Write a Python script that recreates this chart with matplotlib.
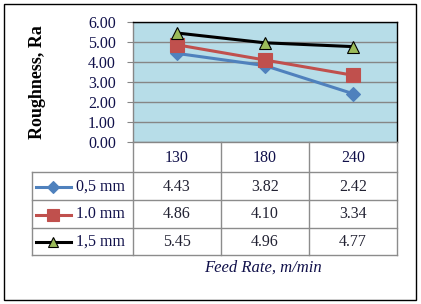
import matplotlib
matplotlib.use("Agg")
import matplotlib.pyplot as plt
from matplotlib.patches import Rectangle

plt.rcParams['font.family'] = ['Liberation Serif', 'DejaVu Serif']

categories = ["130", "180", "240"]
series_names = ["0,5 mm", "1.0 mm", "1,5 mm"]
values_05 = [4.43, 3.82, 2.42]
values_10 = [4.86, 4.10, 3.34]
values_15 = [5.45, 4.96, 4.77]
yticks = [0, 1, 2, 3, 4, 5, 6]

series = [values_05, values_10, values_15]
line_colors = ["#4F81BD", "#C0504D", "#000000"]
markers = ["D", "s", "^"]
mfc = ["#4F81BD", "#C0504D", "#9BBB59"]
mec = ["#4F81BD", "#C0504D", "#000000"]
msizes = [7, 9.5, 9]

W, H = 421, 304
fig = plt.figure(figsize=(W / 100, H / 100), dpi=100)
fig.patch.set_facecolor("white")

FS = 11.5
TXT = "#10104a"

def fx(px):
    return px / W

def fy(py):
    return 1 - py / H

# outer border
fig.add_artist(Rectangle((fx(3.5), fy(300)), fx(412), (300 - 3.5) / H,
                         transform=fig.transFigure, fill=False,
                         edgecolor="black", linewidth=1.0))

L, R, T, B = 133, 396.7, 22, 142
ax = fig.add_axes([fx(L), fy(B), fx(R - L), (B - T) / H])
ax.set_facecolor("#B7DDE8")
n = len(categories)
x = list(range(n))
for vals, lc, m, fc, ec, ms in zip(series, line_colors, markers, mfc, mec, msizes):
    ax.plot(x, vals, color=lc, linewidth=2.2, marker=m, markersize=ms,
            markerfacecolor=fc, markeredgecolor=ec, markeredgewidth=0.8,
            zorder=3)
ax.set_xlim(-0.5, n - 0.5)
ax.set_ylim(0, 6)
ax.set_yticks(yticks)
ax.set_yticklabels([f"{v:.2f}" for v in yticks], fontsize=FS, color=TXT)
ax.set_xticks([])
ax.yaxis.grid(True, color="#868686", linewidth=1.0)
ax.set_axisbelow(True)
ax.tick_params(axis="y", length=4.3, color="#868686", pad=8)
ax.spines["top"].set_color("black")
ax.spines["right"].set_color("black")
ax.spines["left"].set_color("#868686")
ax.spines["bottom"].set_color("#868686")
for s in ax.spines.values():
    s.set_linewidth(1.0)

fig.text(fx(38), fy(82.5), "Roughness, Ra", rotation=90, ha="center",
         va="center", fontsize=13, fontweight="bold", color="black")

# data table
TL = 32.3
TB = 255.3
unit = (R - L) / n
xleft = -0.5 - (L - TL) / unit
tab = fig.add_axes([fx(TL), fy(TB), fx(R - TL), (TB - B) / H])
tab.set_xlim(xleft, n - 0.5)
tab.set_ylim(TB, B)
tab.axis("off")
rows = [B, 172.3, 200.3, 227.7, TB]
gc = "#8C8C8C"
for r in rows[1:]:
    tab.plot([xleft, n - 0.5], [r, r], color=gc, linewidth=1.0, clip_on=False)
for xv in [i - 0.5 for i in range(n + 1)]:
    tab.plot([xv, xv], [B, TB], color=gc, linewidth=1.0, clip_on=False)
tab.plot([xleft, xleft], [rows[1], TB], color=gc, linewidth=1.0, clip_on=False)

for i, c in enumerate(categories):
    tab.text(i, (rows[0] + rows[1]) / 2 + 1, c, ha="center", va="center",
             fontsize=FS, color=TXT)

lx0 = -0.5 - (L - 36) / unit
lx1 = -0.5 - (L - 71) / unit
lxm = (lx0 + lx1) / 2
ltx = -0.5 - (L - 76) / unit
for k, (name, vals) in enumerate(zip(series_names, series)):
    yc = (rows[k + 1] + rows[k + 2]) / 2 + 0.5
    tab.plot([lx0, lx1], [yc, yc], color=line_colors[k], linewidth=2.2,
             clip_on=False)
    tab.plot([lxm], [yc], marker=markers[k], markersize=msizes[k] * 0.85,
             markerfacecolor=mfc[k], markeredgecolor=mec[k],
             markeredgewidth=0.8, linestyle="none", clip_on=False)
    tab.text(ltx, yc, name, ha="left", va="center", fontsize=FS, color=TXT)
    for i, v in enumerate(vals):
        tab.text(i, yc, f"{v:.2f}", ha="center", va="center", fontsize=FS,
                 color="#222233")

fig.text(fx(263), fy(268), "Feed Rate, m/min", ha="center", va="center",
         fontsize=12, fontstyle="italic", color=TXT)

fig.savefig("out.png", dpi=100)
